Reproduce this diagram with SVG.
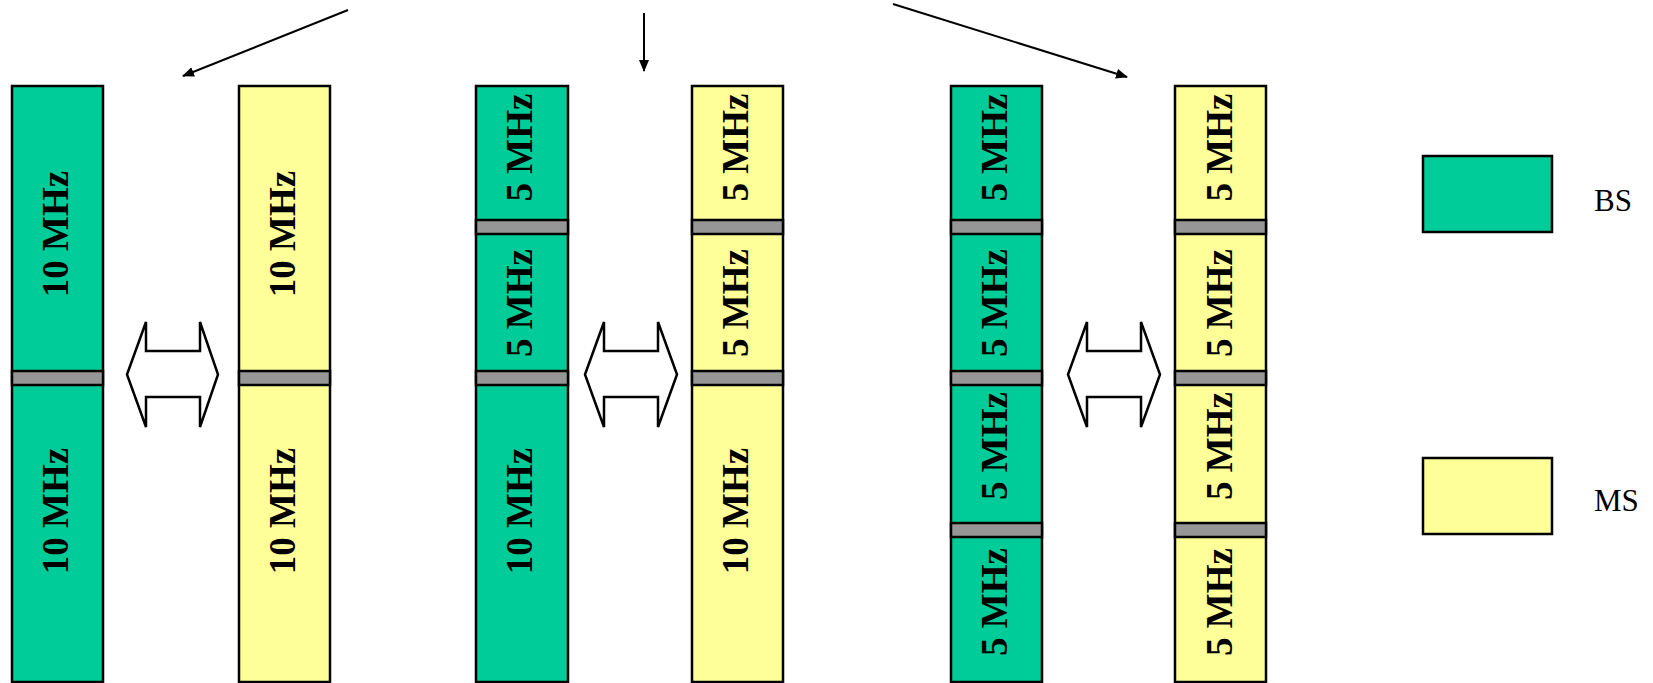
<svg xmlns="http://www.w3.org/2000/svg" width="1653" height="683" viewBox="0 0 1653 683">
<style>
.bs{fill:#00CC99;stroke:#000;stroke-width:2.5}
.ms{fill:#FFFF99;stroke:#000;stroke-width:2.5}
.gap{fill:#969696;stroke:#000;stroke-width:2.5}
.dbl{fill:#fff;stroke:#000;stroke-width:2.5;stroke-linejoin:miter}
.lbl{font-family:"Liberation Serif","Times New Roman",serif;font-weight:bold;font-size:37px;fill:#000;text-anchor:middle}
.leg{font-family:"Liberation Serif","Times New Roman",serif;font-size:31px;fill:#000}
.con{stroke:#000;stroke-width:2;fill:none;marker-end:url(#ah)}
</style>
<defs>
<marker id="ah" viewBox="0 0 12 10" refX="11" refY="5" markerWidth="12" markerHeight="10" markerUnits="userSpaceOnUse" orient="auto">
<path d="M0,0 L12,5 L0,10 z" fill="#000"/>
</marker>
</defs>
<rect width="1653" height="683" fill="#fff"/>
<g id="connectors">
<line class="con" x1="348" y1="10" x2="183" y2="76"/>
<line class="con" x1="644" y1="13" x2="644" y2="71"/>
<line class="con" x1="893" y1="4" x2="1127" y2="77"/>
</g>
<g id="g1-bs">
<rect class="bs" x="12" y="86" width="91" height="596"/>
<rect class="gap" x="12" y="371" width="91" height="14"/>
<text class="lbl" transform="translate(68,234) rotate(-90)">10 MHz</text>
<text class="lbl" transform="translate(68,511) rotate(-90)">10 MHz</text>
</g>
<g id="g1-arrow">
<polygon class="dbl" points="127,374.5 146,322 146,351 200,351 200,322 218,374.5 200,427 200,397 146,397 146,427"/>
</g>
<g id="g1-ms">
<rect class="ms" x="239" y="86" width="91" height="596"/>
<rect class="gap" x="239" y="371" width="91" height="14"/>
<text class="lbl" transform="translate(295,234) rotate(-90)">10 MHz</text>
<text class="lbl" transform="translate(295,511) rotate(-90)">10 MHz</text>
</g>
<g id="g2-bs">
<rect class="bs" x="476" y="86" width="92" height="596"/>
<rect class="gap" x="476" y="220" width="92" height="14"/>
<rect class="gap" x="476" y="371" width="92" height="14"/>
<text class="lbl" transform="translate(532,147.5) rotate(-90)">5 MHz</text>
<text class="lbl" transform="translate(532,303) rotate(-90)">5 MHz</text>
<text class="lbl" transform="translate(532,511) rotate(-90)">10 MHz</text>
</g>
<g id="g2-arrow">
<polygon class="dbl" points="585,374.5 604,322 604,351 658,351 658,322 677,374.5 658,427 658,397 604,397 604,427"/>
</g>
<g id="g2-ms">
<rect class="ms" x="692" y="86" width="91" height="596"/>
<rect class="gap" x="692" y="220" width="91" height="14"/>
<rect class="gap" x="692" y="371" width="91" height="14"/>
<text class="lbl" transform="translate(748,147.5) rotate(-90)">5 MHz</text>
<text class="lbl" transform="translate(748,303) rotate(-90)">5 MHz</text>
<text class="lbl" transform="translate(748,511) rotate(-90)">10 MHz</text>
</g>
<g id="g3-bs">
<rect class="bs" x="951" y="86" width="91" height="596"/>
<rect class="gap" x="951" y="220" width="91" height="14"/>
<rect class="gap" x="951" y="371" width="91" height="14"/>
<rect class="gap" x="951" y="523" width="91" height="14"/>
<text class="lbl" transform="translate(1007,147.5) rotate(-90)">5 MHz</text>
<text class="lbl" transform="translate(1007,303) rotate(-90)">5 MHz</text>
<text class="lbl" transform="translate(1007,446) rotate(-90)">5 MHz</text>
<text class="lbl" transform="translate(1007,602) rotate(-90)">5 MHz</text>
</g>
<g id="g3-arrow">
<polygon class="dbl" points="1068,374.5 1087,322 1087,351 1141,351 1141,322 1160,374.5 1141,427 1141,397 1087,397 1087,427"/>
</g>
<g id="g3-ms">
<rect class="ms" x="1175" y="86" width="91" height="596"/>
<rect class="gap" x="1175" y="220" width="91" height="14"/>
<rect class="gap" x="1175" y="371" width="91" height="14"/>
<rect class="gap" x="1175" y="523" width="91" height="14"/>
<text class="lbl" transform="translate(1232,147.5) rotate(-90)">5 MHz</text>
<text class="lbl" transform="translate(1232,303) rotate(-90)">5 MHz</text>
<text class="lbl" transform="translate(1232,446) rotate(-90)">5 MHz</text>
<text class="lbl" transform="translate(1232,602) rotate(-90)">5 MHz</text>
</g>
<g id="legend-bs">
<rect class="bs" x="1423" y="156" width="129" height="76"/>
<text class="leg" x="1594" y="211">BS</text>
</g>
<g id="legend-ms">
<rect class="ms" x="1423" y="458" width="129" height="76"/>
<text class="leg" x="1594" y="511">MS</text>
</g>
</svg>
